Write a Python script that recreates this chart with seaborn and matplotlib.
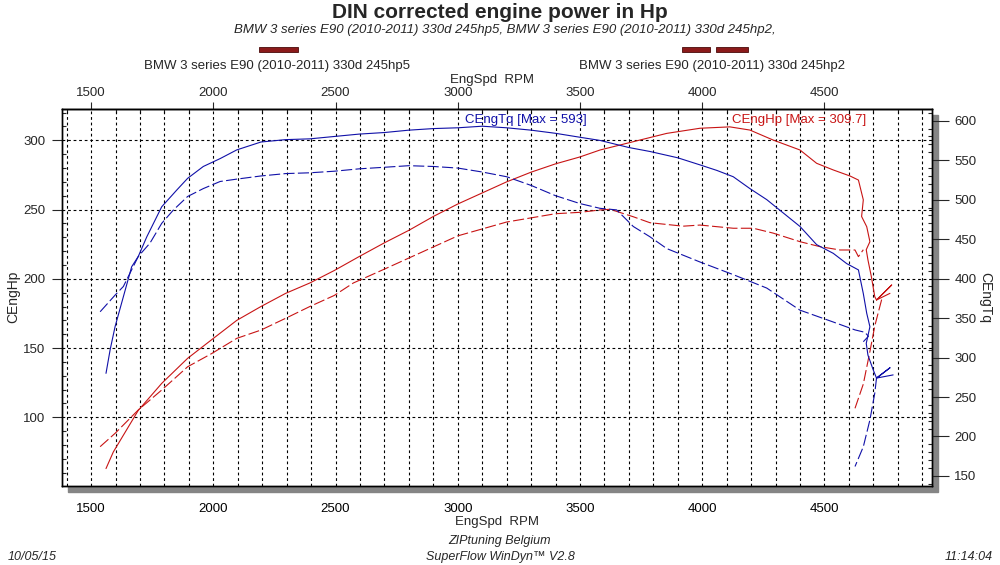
import matplotlib
matplotlib.use("Agg")
import matplotlib.pyplot as plt
from matplotlib.patches import Rectangle
from matplotlib.ticker import MultipleLocator
import seaborn as sns

# ---- run 245hp5 (solid) ----
tq5_rpm = [1561, 1578, 1598, 1632, 1666, 1693, 1728, 1789, 1850, 1895, 1959, 2028, 2096,
           2195, 2296, 2395, 2495, 2596, 2700, 2800, 2900, 3000, 3100, 3200, 3300, 3400,
           3500, 3582, 3700, 3786, 3900, 3991, 4060, 4127, 4195, 4264, 4332, 4400, 4468,
           4536, 4591, 4639, 4659, 4673, 4686, 4671, 4678, 4700, 4713, 4768, 4713, 4781]
tq5_nm = [280, 310, 339, 377, 415, 428, 453, 491, 512, 527, 542, 552, 563,
          573, 576, 577, 580, 583, 585, 588, 590, 591, 593, 591, 588, 584,
          579, 575, 566, 561, 553, 544, 537, 529, 514, 500, 483, 466, 443,
          432, 419, 411, 381, 356, 339, 318, 303, 284, 274, 287, 274, 278]
hp5_rpm = [1561, 1591, 1693, 1789, 1895, 1993, 2096, 2195, 2296, 2395, 2495, 2596, 2700,
           2800, 2900, 3000, 3100, 3200, 3300, 3400, 3500, 3582, 3718, 3855, 3991, 4113,
           4195, 4290, 4400, 4468, 4536, 4605, 4639, 4659, 4652, 4673, 4686, 4671, 4678,
           4692, 4706, 4713, 4775, 4713, 4768]
hp5_hp = [63, 75, 105, 124.5, 142.6, 156, 170, 180, 189.5, 197, 206, 216, 226,
          235, 245, 254, 262, 270, 277, 283, 288, 293, 299, 305, 308.7, 309.7,
          307.4, 300.2, 293, 283.4, 278.6, 274.2, 271.3, 257, 245, 237.6, 226.8, 221, 213.6,
          201.5, 187, 184.7, 195.5, 184.7, 189.5]

# ---- run 245hp2 (dashed) ----
tq2_rpm = [1537, 1598, 1632, 1693, 1741, 1789, 1837, 1895, 1959, 2028, 2096, 2195, 2296,
           2395, 2495, 2596, 2700, 2800, 2900, 3000, 3100, 3200, 3300, 3400, 3500, 3582,
           3650, 3718, 3786, 3855, 3991, 4127, 4264, 4400, 4536, 4625, 4665, 4680, 4659]
tq2_nm = [358, 379, 390, 428, 445, 470, 487, 504, 514, 523, 526, 530, 533,
          534, 536, 539, 541, 543, 542, 540, 535, 529, 518, 505, 495, 489,
          487, 466, 453, 438, 421, 405, 388, 360, 345, 335, 332, 327, 320]
tq2_tail_rpm = [4713, 4706, 4686, 4659, 4625]
tq2_tail_nm = [274, 255, 221, 187, 162]
hp2_rpm = [1537, 1598, 1693, 1789, 1895, 1993, 2096, 2195, 2296, 2395, 2495, 2573, 2700,
           2800, 2900, 3000, 3100, 3200, 3300, 3400, 3500, 3582, 3623, 3718, 3786, 3922,
           3991, 4127, 4209, 4290, 4400, 4482, 4564, 4625, 4639, 4659]
hp2_hp = [78.8, 88.4, 105.3, 119.7, 136.5, 146, 157, 163, 171.5, 180, 188, 197, 207,
          215, 223, 231, 236, 241, 244, 247, 248, 249.7, 250.2, 244.8, 240.5, 238,
          238.8, 236.5, 236.5, 233, 226.8, 223.2, 220.8, 220.8, 216, 221]
hp2_tail_rpm = [4734, 4706, 4686, 4659, 4625]
hp2_tail_hp = [185, 166, 147.5, 124, 106.5]

rpm_ticks = [1500, 2000, 2500, 3000, 3500, 4000, 4500]
hp_ticks = [100, 150, 200, 250, 300]
tq_ticks = [150, 200, 250, 300, 350, 400, 450, 500, 550, 600]

run_names = ["BMW 3 series E90 (2010-2011) 330d 245hp5",
             "BMW 3 series E90 (2010-2011) 330d 245hp2"]
max_tq = 593
max_hp = 309.7

BLUE = "#1010a8"
RED = "#c81414"
DASH = (0, (10, 3))
FONT = ["Liberation Sans", "DejaVu Sans"]

sns.set_style("white")
plt.rcParams["font.family"] = FONT

fig = plt.figure(figsize=(10, 5.65), dpi=100)
W, H = 1000, 565
L, R, T, B = 62, 932, 109, 486
ax = fig.add_axes([L / W, 1 - B / H, (R - L) / W, (B - T) / H])
ax.set_zorder(2)
ax2 = ax.twinx()
ax2.set_zorder(3)
ax2.patch.set_visible(False)

# drop shadow
fig.patches.append(Rectangle(((L + 6) / W, 1 - (B + 6) / H), (R - L) / W, (B - T) / H,
                             transform=fig.transFigure, color="#858585", zorder=0))

lw = 0.8
sns.lineplot(x=hp5_rpm, y=hp5_hp, ax=ax, sort=False, estimator=None, color=RED, lw=lw)
sns.lineplot(x=hp2_rpm, y=hp2_hp, ax=ax, sort=False, estimator=None, color=RED, lw=lw, linestyle=DASH)
sns.lineplot(x=hp2_tail_rpm, y=hp2_tail_hp, ax=ax, sort=False, estimator=None, color=RED, lw=lw, linestyle=DASH)
sns.lineplot(x=tq5_rpm, y=tq5_nm, ax=ax2, sort=False, estimator=None, color=BLUE, lw=lw)
sns.lineplot(x=tq2_rpm, y=tq2_nm, ax=ax2, sort=False, estimator=None, color=BLUE, lw=lw, linestyle=DASH)
sns.lineplot(x=tq2_tail_rpm, y=tq2_tail_nm, ax=ax2, sort=False, estimator=None, color=BLUE, lw=lw, linestyle=DASH)

ax.set_xlim(1381, 4940)
ax.set_ylim(50.4, 322.6)
ax2.set_ylim(137.3, 614.8)

ax.set_xticks(rpm_ticks)
ax.xaxis.set_minor_locator(MultipleLocator(100))
ax.yaxis.set_minor_locator(MultipleLocator(10))
ax2.yaxis.set_minor_locator(MultipleLocator(10))
ax.set_yticks(hp_ticks)
ax2.set_yticks(tq_ticks)

grid_kw = dict(color="black", linestyle=(0, (2.5, 2.5)), linewidth=0.8)
ax.grid(True, which="both", axis="x", **grid_kw)
ax.grid(True, which="major", axis="y", **grid_kw)

# top rpm axis
secx = ax.secondary_xaxis("top")
secx.set_xticks(rpm_ticks)
secx.xaxis.set_minor_locator(MultipleLocator(100))
secx.tick_params(which="major", direction="out", length=5, width=0.8, labelsize=9.5, pad=2)
secx.tick_params(which="minor", direction="in", length=3, width=0.8)
secx.spines["top"].set_linewidth(1.0)

ax.tick_params(axis="x", which="major", direction="out", length=5, width=0.8,
               labelsize=9.5, pad=7, colors="black")
ax.tick_params(axis="x", which="minor", direction="in", length=3, width=0.8)
ax.tick_params(axis="y", which="major", direction="out", length=7, width=0.8, labelsize=9.5, pad=5)
ax.tick_params(axis="y", which="minor", direction="in", length=3, width=0.8)
ax2.tick_params(axis="y", which="major", direction="out", length=12, width=0.8, labelsize=9.5, pad=4)
ax2.tick_params(axis="y", which="minor", direction="in", length=3, width=0.8)

for a in (ax, ax2):
    for s in a.spines.values():
        s.set_color("black")
        s.set_linewidth(1.0)

ax.set_xlabel("EngSpd  RPM", fontsize=9.5, labelpad=1)

def ftext(x, y, s, **kw):
    fig.text(x / W, 1 - y / H, s, **kw)

ftext(13, 297, "CEngHp", ha="center", va="center", fontsize=10, rotation=90)
ftext(985, 297, "CEngTq", ha="center", va="center", fontsize=10, rotation=270)

ftext(500, 12, "DIN corrected engine power in Hp", ha="center", va="center",
      fontsize=15, fontweight="bold")
ftext(505, 30, run_names[0] + ", " + run_names[1] + ",", ha="center", va="center",
      fontsize=9.5, style="italic")
ftext(277, 66, run_names[0], ha="center", va="center", fontsize=9.5)
ftext(712, 66, run_names[1], ha="center", va="center", fontsize=9.5)
ftext(492, 80, "EngSpd  RPM", ha="center", va="center", fontsize=9.5)

for x0, x1 in [(259, 298), (682, 710), (716, 748)]:
    fig.patches.append(Rectangle((x0 / W, 1 - 52 / H), (x1 - x0) / W, 5 / H,
                                 transform=fig.transFigure, facecolor="#8b1a1a",
                                 edgecolor="#4a0a0a", lw=0.6))

ftext(465, 120, f"CEngTq [Max = {max_tq}]", ha="left", va="center", fontsize=9.5, color=BLUE)
ftext(732, 120, f"CEngHp [Max = {max_hp}]", ha="left", va="center", fontsize=9.5, color=RED)

ftext(500, 541, "ZIPtuning Belgium", ha="center", va="center", fontsize=9, style="italic")
ftext(500, 557, "SuperFlow WinDyn\u2122 V2.8", ha="center", va="center", fontsize=9, style="italic")
ftext(8, 557, "10/05/15", ha="left", va="center", fontsize=9, style="italic")
ftext(993, 557, "11:14:04", ha="right", va="center", fontsize=9, style="italic")

fig.savefig("out.png", dpi=100, facecolor="white")
